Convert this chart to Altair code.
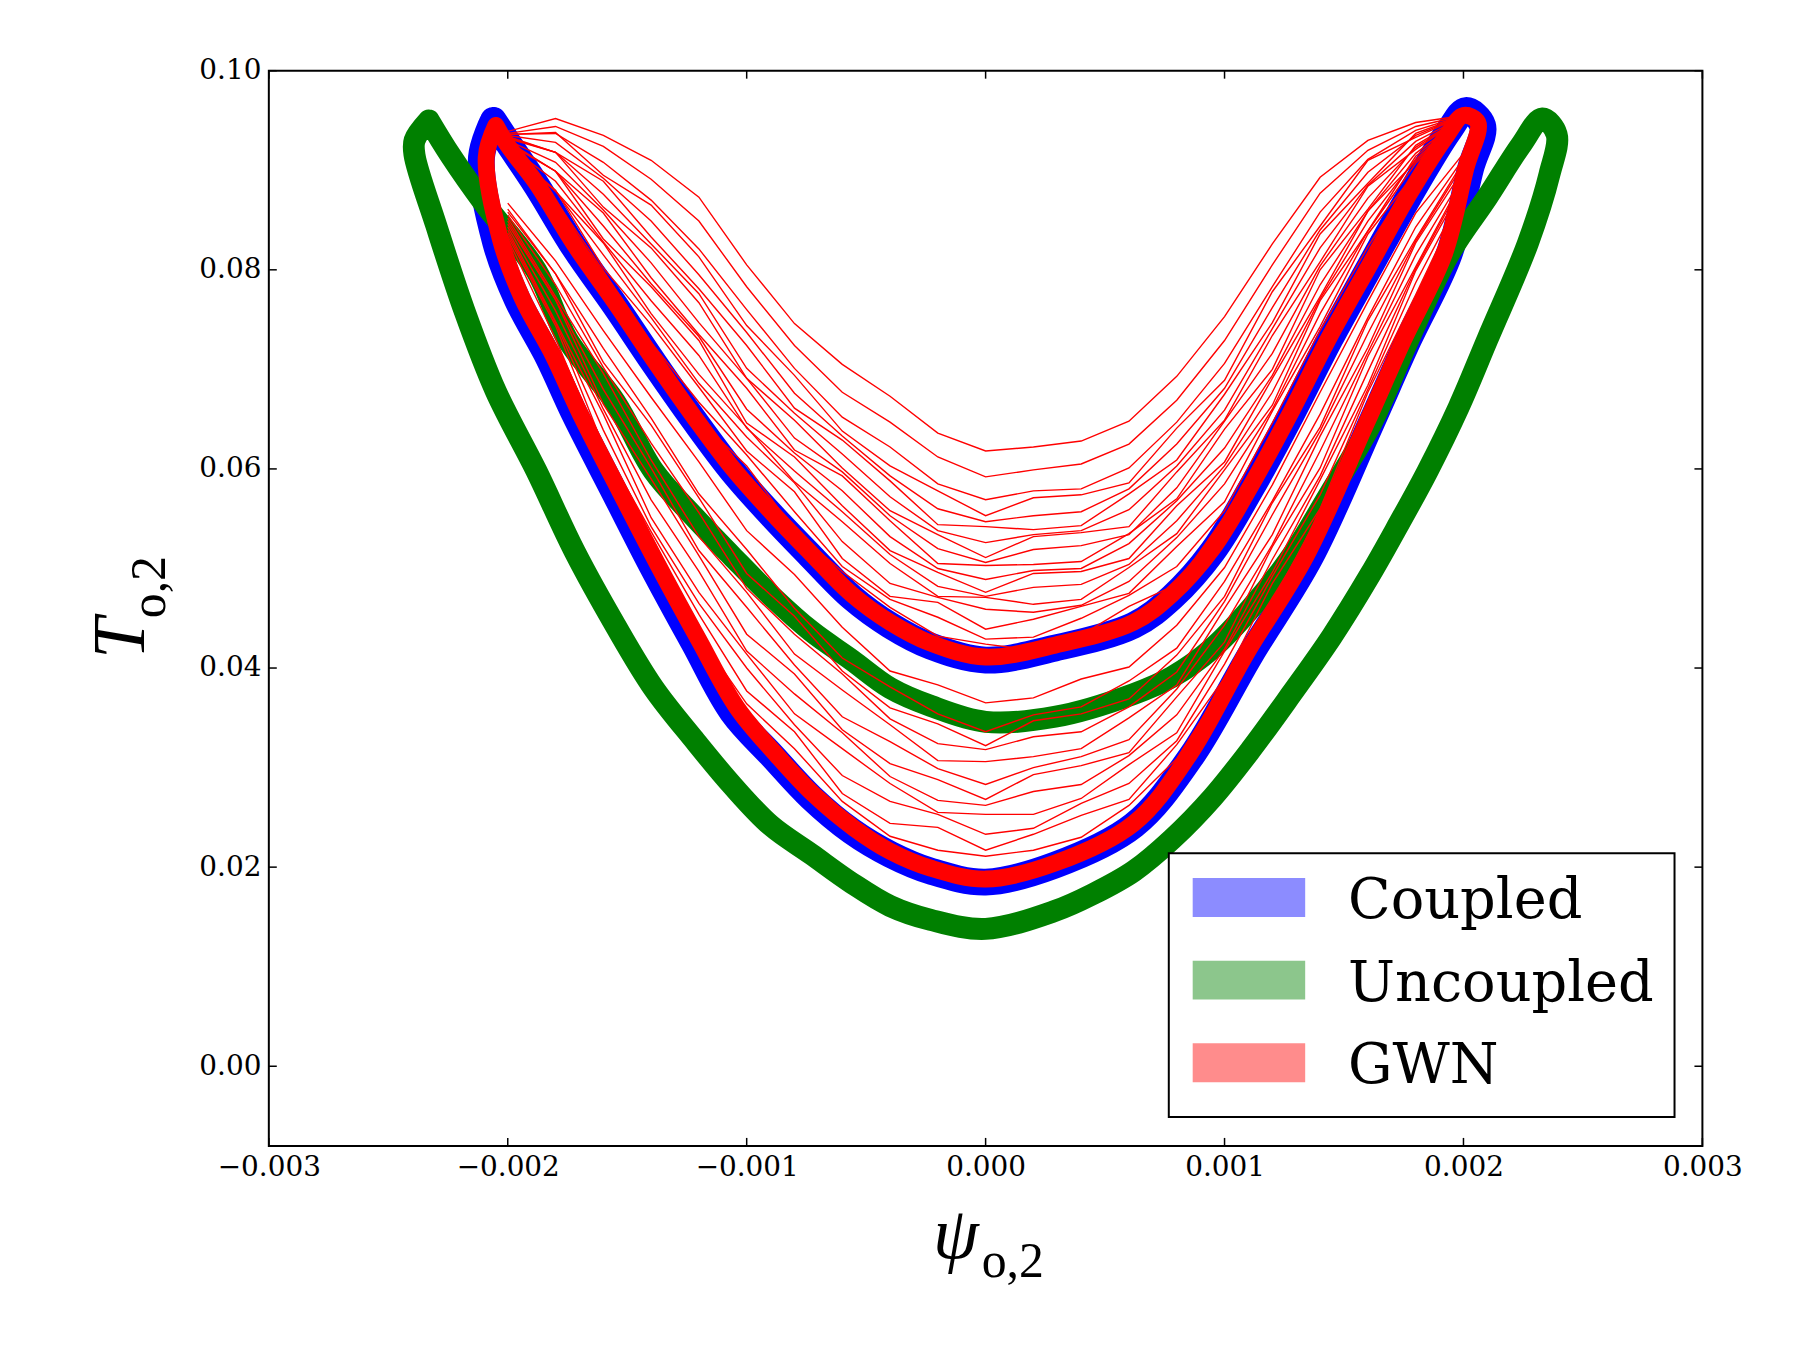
import altair as alt
import pandas as pd

# ---------------- data ----------------
x_ticks = [-0.003, -0.002, -0.001, 0.0, 0.001, 0.002, 0.003]
y_ticks = [0.00, 0.02, 0.04, 0.06, 0.08, 0.10]

legend_labels = ["Coupled", "Uncoupled", "GWN"]
legend_colors = ["#0000ff", "#008000", "#ff0000"]

# Uncoupled loop (green) centre line: outer branch left->right, inner branch back
uncoupled_x = [-0.00233, -0.00239, -0.00239, -0.00230, -0.00218, -0.00205, -0.00188, -0.00172,
               -0.00155, -0.00139, -0.00122, -0.00106, -0.00090, -0.00073, -0.00056, -0.00040,
               -0.00023, 0.00000, 0.00029, 0.00045, 0.00062, 0.00078, 0.00095, 0.00111,
               0.00128, 0.00145, 0.00161, 0.00173, 0.00185, 0.00198, 0.00210, 0.00227,
               0.00236, 0.00239, 0.00233, 0.00224, 0.00210, 0.00194, 0.00177, 0.00161,
               0.00144, 0.00128, 0.00111, 0.00095, 0.00078, 0.00062, 0.00029, 0.00000,
               -0.00023, -0.00040, -0.00056, -0.00073, -0.00089, -0.00106, -0.00122, -0.00139,
               -0.00155, -0.00175, -0.00188, -0.00210, -0.00224, -0.00233]
uncoupled_y = [0.0950, 0.0930, 0.0915, 0.0845, 0.0758, 0.0678, 0.0598, 0.0517,
               0.0443, 0.0380, 0.0328, 0.0282, 0.0242, 0.0213, 0.0184, 0.0161,
               0.0147, 0.0138, 0.0156, 0.0173, 0.0196, 0.0228, 0.0270, 0.0318,
               0.0374, 0.0432, 0.0494, 0.0545, 0.0598, 0.0662, 0.0730, 0.0827,
               0.0896, 0.0936, 0.0952, 0.0925, 0.0873, 0.0816, 0.0730, 0.0644,
               0.0575, 0.0512, 0.0460, 0.0420, 0.0391, 0.0374, 0.0351, 0.0346,
               0.0362, 0.0380, 0.0408, 0.0437, 0.0471, 0.0512, 0.0552, 0.0598,
               0.0667, 0.0730, 0.0799, 0.0867, 0.0915, 0.0950]

# Coupled loop (blue) centre line
coupled_x = [-0.00206, -0.00211, -0.00205, -0.00196, -0.00183, -0.00172, -0.00155, -0.00139,
             -0.00122, -0.00106, -0.00089, -0.00073, -0.00056, -0.00040, -0.00023, 0.00000,
             0.00029, 0.00062, 0.00086, 0.00111, 0.00136, 0.00161, 0.00177, 0.00194,
             0.00203, 0.00208, 0.00201, 0.00194, 0.00177, 0.00161, 0.00144, 0.00128,
             0.00111, 0.00095, 0.00078, 0.00062, 0.00029, 0.00000, -0.00023, -0.00040,
             -0.00056, -0.00073, -0.00089, -0.00106, -0.00122, -0.00139, -0.00155, -0.00172,
             -0.00188, -0.00200, -0.00206]
coupled_y = [0.0950, 0.0913, 0.0827, 0.0770, 0.0712, 0.0655, 0.0575, 0.0500,
             0.0425, 0.0356, 0.0311, 0.0270, 0.0236, 0.0213, 0.0196, 0.0185,
             0.0202, 0.0242, 0.0311, 0.0414, 0.0512, 0.0644, 0.0730, 0.0816,
             0.0902, 0.0945, 0.0960, 0.0940, 0.0873, 0.0804, 0.0730, 0.0655,
             0.0580, 0.0517, 0.0471, 0.0443, 0.0420, 0.0408, 0.0422, 0.0443,
             0.0471, 0.0512, 0.0552, 0.0598, 0.0649, 0.0707, 0.0764, 0.0822,
             0.0885, 0.0928, 0.0950]

# GWN dense band (red) centre line
gwn_band_x = [-0.00205, -0.00209, -0.00203, -0.00194, -0.00181, -0.00170, -0.00153, -0.00137,
              -0.00120, -0.00104, -0.00088, -0.00072, -0.00055, -0.00040, -0.00023, 0.00000,
              0.00029, 0.00062, 0.00085, 0.00109, 0.00134, 0.00159, 0.00175, 0.00192,
              0.00201, 0.00206, 0.00200, 0.00193, 0.00177, 0.00161, 0.00144, 0.00128,
              0.00111, 0.00095, 0.00078, 0.00062, 0.00029, 0.00000, -0.00023, -0.00040,
              -0.00056, -0.00073, -0.00089, -0.00106, -0.00122, -0.00139, -0.00155, -0.00172,
              -0.00188, -0.00200, -0.00205]
gwn_band_y = [0.0945, 0.0913, 0.0830, 0.0772, 0.0714, 0.0657, 0.0577, 0.0503,
              0.0428, 0.0360, 0.0314, 0.0273, 0.0239, 0.0216, 0.0199, 0.0188,
              0.0204, 0.0244, 0.0312, 0.0414, 0.0512, 0.0644, 0.0730, 0.0816,
              0.0902, 0.0948, 0.0955, 0.0935, 0.0875, 0.0806, 0.0733, 0.0658,
              0.0583, 0.0520, 0.0474, 0.0446, 0.0423, 0.0411, 0.0425, 0.0446,
              0.0474, 0.0515, 0.0555, 0.0601, 0.0652, 0.0710, 0.0767, 0.0825,
              0.0887, 0.0925, 0.0945]

# GWN individual trajectories (thin red), sampled at these psi values
gwn_grid_x = [-0.0020, -0.0018, -0.0016, -0.0014, -0.0012, -0.0010, -0.0008, -0.0006,
              -0.0004, -0.0002, 0.0000, 0.0002, 0.0004, 0.0006, 0.0008, 0.0010,
              0.0012, 0.0014, 0.0016, 0.0018, 0.0020]

gwn_upper = [
    [0.0917, 0.0858, 0.0795, 0.0714, 0.0650, 0.0603, 0.0539, 0.0497, 0.0461, 0.0432, 0.0424,
     0.0418, 0.0433, 0.0462, 0.0484, 0.0552, 0.0627, 0.0731, 0.0807, 0.0897, 0.0951],
    [0.0918, 0.0870, 0.0799, 0.0727, 0.0667, 0.0614, 0.0557, 0.0502, 0.0469, 0.0451, 0.0429,
     0.0431, 0.0450, 0.0473, 0.0502, 0.0558, 0.0646, 0.0739, 0.0823, 0.0898, 0.0952],
    [0.0920, 0.0880, 0.0802, 0.0745, 0.0682, 0.0618, 0.0577, 0.0510, 0.0472, 0.0466, 0.0439,
     0.0449, 0.0462, 0.0475, 0.0522, 0.0567, 0.0658, 0.0743, 0.0836, 0.0898, 0.0952],
    [0.0923, 0.0879, 0.0815, 0.0752, 0.0686, 0.0632, 0.0586, 0.0527, 0.0485, 0.0471, 0.0459,
     0.0456, 0.0463, 0.0487, 0.0531, 0.0585, 0.0660, 0.0756, 0.0839, 0.0907, 0.0952],
    [0.0924, 0.0879, 0.0827, 0.0756, 0.0695, 0.0642, 0.0587, 0.0547, 0.0505, 0.0472, 0.0471,
     0.0464, 0.0469, 0.0501, 0.0535, 0.0599, 0.0664, 0.0769, 0.0839, 0.0914, 0.0952],
    [0.0925, 0.0889, 0.0828, 0.0769, 0.0714, 0.0641, 0.0598, 0.0557, 0.0514, 0.0482, 0.0472,
     0.0481, 0.0484, 0.0504, 0.0548, 0.0603, 0.0677, 0.0771, 0.0849, 0.0911, 0.0953],
    [0.0927, 0.0899, 0.0831, 0.0783, 0.0729, 0.0646, 0.0612, 0.0563, 0.0518, 0.0496, 0.0476,
     0.0495, 0.0497, 0.0510, 0.0563, 0.0607, 0.0691, 0.0773, 0.0859, 0.0909, 0.0953],
    [0.0928, 0.0899, 0.0844, 0.0786, 0.0733, 0.0660, 0.0616, 0.0578, 0.0532, 0.0500, 0.0489,
     0.0498, 0.0500, 0.0525, 0.0568, 0.0621, 0.0694, 0.0785, 0.0859, 0.0917, 0.0953],
    [0.0929, 0.0899, 0.0857, 0.0792, 0.0735, 0.0681, 0.0619, 0.0593, 0.0548, 0.0505, 0.0503,
     0.0504, 0.0507, 0.0535, 0.0570, 0.0640, 0.0700, 0.0800, 0.0861, 0.0925, 0.0954],
    [0.0930, 0.0908, 0.0860, 0.0807, 0.0747, 0.0691, 0.0631, 0.0597, 0.0553, 0.0520, 0.0506,
     0.0519, 0.0523, 0.0534, 0.0581, 0.0648, 0.0716, 0.0804, 0.0872, 0.0923, 0.0954],
    [0.0932, 0.0918, 0.0863, 0.0822, 0.0767, 0.0691, 0.0649, 0.0601, 0.0558, 0.0534, 0.0511,
     0.0532, 0.0536, 0.0542, 0.0597, 0.0649, 0.0734, 0.0808, 0.0884, 0.0921, 0.0954],
    [0.0933, 0.0918, 0.0876, 0.0826, 0.0776, 0.0701, 0.0656, 0.0615, 0.0572, 0.0538, 0.0526,
     0.0534, 0.0538, 0.0559, 0.0603, 0.0659, 0.0741, 0.0822, 0.0885, 0.0929, 0.0954],
    [0.0934, 0.0918, 0.0889, 0.0833, 0.0781, 0.0724, 0.0661, 0.0629, 0.0588, 0.0544, 0.0542,
     0.0539, 0.0543, 0.0575, 0.0609, 0.0675, 0.0747, 0.0836, 0.0887, 0.0937, 0.0955],
    [0.0935, 0.0928, 0.0892, 0.0849, 0.0795, 0.0737, 0.0676, 0.0633, 0.0593, 0.0560, 0.0547,
     0.0553, 0.0557, 0.0580, 0.0625, 0.0681, 0.0762, 0.0840, 0.0898, 0.0935, 0.0955],
    [0.0936, 0.0938, 0.0895, 0.0865, 0.0813, 0.0744, 0.0694, 0.0638, 0.0603, 0.0578, 0.0553,
     0.0571, 0.0574, 0.0586, 0.0641, 0.0689, 0.0778, 0.0844, 0.0910, 0.0933, 0.0955],
    [0.0936, 0.0937, 0.0908, 0.0870, 0.0821, 0.0760, 0.0701, 0.0652, 0.0622, 0.0585, 0.0569,
     0.0578, 0.0580, 0.0601, 0.0647, 0.0706, 0.0783, 0.0858, 0.0911, 0.0940, 0.0955],
    [0.0937, 0.0944, 0.0924, 0.0891, 0.0849, 0.0783, 0.0724, 0.0677, 0.0647, 0.0612, 0.0592,
     0.0599, 0.0605, 0.0625, 0.0669, 0.0729, 0.0805, 0.0877, 0.0920, 0.0944, 0.0955],
    [0.0939, 0.0952, 0.0935, 0.0910, 0.0873, 0.0805, 0.0746, 0.0705, 0.0673, 0.0636, 0.0618,
     0.0622, 0.0628, 0.0648, 0.0693, 0.0753, 0.0826, 0.0893, 0.0930, 0.0948, 0.0955],
]

gwn_lower = [
    [0.0831, 0.0731, 0.0617, 0.0521, 0.0433, 0.0364, 0.0319, 0.0266, 0.0231, 0.0217, 0.0211,
     0.0217, 0.0230, 0.0262, 0.0309, 0.0385, 0.0467, 0.0556, 0.0664, 0.0773, 0.0873],
    [0.0834, 0.0744, 0.0623, 0.0537, 0.0454, 0.0377, 0.0336, 0.0274, 0.0244, 0.0240, 0.0217,
     0.0233, 0.0252, 0.0268, 0.0323, 0.0390, 0.0485, 0.0560, 0.0677, 0.0775, 0.0876],
    [0.0837, 0.0747, 0.0639, 0.0542, 0.0465, 0.0400, 0.0343, 0.0292, 0.0266, 0.0253, 0.0233,
     0.0239, 0.0264, 0.0284, 0.0327, 0.0404, 0.0492, 0.0574, 0.0680, 0.0787, 0.0879],
    [0.0840, 0.0748, 0.0655, 0.0551, 0.0476, 0.0414, 0.0354, 0.0319, 0.0284, 0.0255, 0.0253,
     0.0253, 0.0269, 0.0303, 0.0335, 0.0417, 0.0496, 0.0589, 0.0684, 0.0799, 0.0885],
    [0.0843, 0.0759, 0.0660, 0.0569, 0.0497, 0.0417, 0.0374, 0.0335, 0.0291, 0.0267, 0.0262,
     0.0276, 0.0283, 0.0312, 0.0353, 0.0419, 0.0509, 0.0593, 0.0698, 0.0801, 0.0890],
    [0.0846, 0.0770, 0.0665, 0.0590, 0.0513, 0.0434, 0.0394, 0.0338, 0.0304, 0.0288, 0.0268,
     0.0293, 0.0302, 0.0315, 0.0371, 0.0426, 0.0522, 0.0601, 0.0713, 0.0803, 0.0893],
    [0.0849, 0.0770, 0.0680, 0.0601, 0.0518, 0.0461, 0.0403, 0.0351, 0.0326, 0.0299, 0.0283,
     0.0300, 0.0311, 0.0328, 0.0379, 0.0443, 0.0524, 0.0618, 0.0717, 0.0815, 0.0895],
    [0.0852, 0.0773, 0.0696, 0.0609, 0.0532, 0.0476, 0.0414, 0.0378, 0.0343, 0.0307, 0.0306,
     0.0311, 0.0319, 0.0350, 0.0383, 0.0460, 0.0534, 0.0633, 0.0722, 0.0827, 0.0901],
    [0.0855, 0.0785, 0.0702, 0.0626, 0.0556, 0.0480, 0.0434, 0.0394, 0.0349, 0.0324, 0.0318,
     0.0331, 0.0336, 0.0361, 0.0396, 0.0467, 0.0554, 0.0638, 0.0736, 0.0829, 0.0906],
    [0.0858, 0.0796, 0.0707, 0.0644, 0.0571, 0.0495, 0.0452, 0.0397, 0.0360, 0.0344, 0.0322,
     0.0347, 0.0354, 0.0369, 0.0413, 0.0472, 0.0566, 0.0642, 0.0749, 0.0831, 0.0909],
    [0.0861, 0.0796, 0.0721, 0.0651, 0.0575, 0.0519, 0.0460, 0.0410, 0.0381, 0.0354, 0.0336,
     0.0353, 0.0361, 0.0387, 0.0420, 0.0487, 0.0568, 0.0655, 0.0752, 0.0843, 0.0912],
    [0.0867, 0.0809, 0.0739, 0.0672, 0.0607, 0.0538, 0.0494, 0.0441, 0.0397, 0.0383, 0.0365,
     0.0370, 0.0389, 0.0401, 0.0443, 0.0501, 0.0584, 0.0677, 0.0768, 0.0857, 0.0917],
]

# ---------------- build tables ----------------
def loop_df(xs, ys):
    return pd.DataFrame({"x": xs, "y": ys, "order": list(range(len(xs)))})

rows = []
for k, ys in enumerate(gwn_upper + gwn_lower):
    for xv, yv in zip(gwn_grid_x, ys):
        rows.append({"x": xv, "y": yv, "curve": k})
thin_df = pd.DataFrame(rows)

W, H = 1440, 1080
xscale = alt.Scale(domain=[-0.003, 0.003], nice=False, zero=False)
yscale = alt.Scale(domain=[-0.008, 0.10], nice=False, zero=False)

common_axis = dict(title=None, grid=False, ticks=False, tickSize=0, domain=False,
                   labelFont="DejaVu Serif", labelFontSize=28, labelColor="black",
                   labelPadding=8, labelFlush=False, labelOverlap=False)
xaxis = alt.Axis(values=x_ticks, format=".3f", **common_axis)
yaxis = alt.Axis(values=y_ticks, format=".2f", **common_axis)

X = alt.X("x:Q", scale=xscale, axis=xaxis)
Y = alt.Y("y:Q", scale=yscale, axis=yaxis)


def loop_layer(df, color, width):
    return alt.Chart(df).mark_line(color=color, strokeWidth=width, strokeCap="round",
                                   strokeJoin="round", interpolate="catmull-rom").encode(
        x=X, y=Y, order="order:Q")


blue = loop_layer(loop_df(coupled_x, coupled_y), legend_colors[0], 27)
green = loop_layer(loop_df(uncoupled_x, uncoupled_y), legend_colors[1], 22)
red_band = loop_layer(loop_df(gwn_band_x, gwn_band_y), legend_colors[2], 17)
red_thin = alt.Chart(thin_df).mark_line(color=legend_colors[2], strokeWidth=1.4).encode(
    x=X, y=Y, detail="curve:N")

xt = pd.DataFrame({"v": x_ticks})
yt = pd.DataFrame({"v": y_ticks})
tick_style = dict(color="black", strokeWidth=1.5)
ticks = [
    alt.Chart(xt).mark_rule(**tick_style).encode(
        x=alt.X("v:Q", scale=xscale, axis=xaxis), y=alt.value(H - 8), y2=alt.value(H)),
    alt.Chart(xt).mark_rule(**tick_style).encode(
        x=alt.X("v:Q", scale=xscale, axis=xaxis), y=alt.value(0), y2=alt.value(8)),
    alt.Chart(yt).mark_rule(**tick_style).encode(
        y=alt.Y("v:Q", scale=yscale, axis=yaxis), x=alt.value(0), x2=alt.value(8)),
    alt.Chart(yt).mark_rule(**tick_style).encode(
        y=alt.Y("v:Q", scale=yscale, axis=yaxis), x=alt.value(W - 8), x2=alt.value(W)),
]

one = pd.DataFrame({"a": [0]})

# axis titles (math-style)
titles = [
    alt.Chart(one).mark_text(font="Liberation Serif", fontStyle="italic", fontSize=74,
                             align="center", baseline="alphabetic", color="black").encode(
        x=alt.value(690), y=alt.value(1193), text=alt.value("ψ")),
    alt.Chart(one).mark_text(font="Liberation Serif", fontSize=50,
                             align="left", baseline="alphabetic", color="black").encode(
        x=alt.value(716), y=alt.value(1212), text=alt.value("o,2")),
    alt.Chart(one).mark_text(font="Liberation Serif", fontStyle="italic", fontSize=74,
                             align="center", baseline="alphabetic", angle=270,
                             color="black").encode(
        x=alt.value(-125), y=alt.value(570), text=alt.value("T")),
    alt.Chart(one).mark_text(font="Liberation Serif", fontSize=50,
                             align="left", baseline="alphabetic", angle=270,
                             color="black").encode(
        x=alt.value(-104), y=alt.value(550), text=alt.value("o,2")),
]

# legend
legend = [alt.Chart(one).mark_rect(fill="white", stroke="black", strokeWidth=2).encode(
    x=alt.value(904), x2=alt.value(1412), y=alt.value(786), y2=alt.value(1051))]
for i, (lab, col) in enumerate(zip(legend_labels, legend_colors)):
    legend.append(alt.Chart(one).mark_rect(fill=col, fillOpacity=0.45).encode(
        x=alt.value(928), x2=alt.value(1041),
        y=alt.value(811 + 83 * i), y2=alt.value(850 + 83 * i)))
    legend.append(alt.Chart(one).mark_text(font="DejaVu Serif", fontSize=56, align="left",
                                           baseline="alphabetic", color="black").encode(
        x=alt.value(1084), y=alt.value(851 + 83 * i), text=alt.value(lab)))

chart = alt.layer(blue, green, red_band, red_thin, *ticks, *titles, *legend).properties(
    width=W, height=H,
    autosize=alt.AutoSizeParams(type="none"),
    padding={"left": 262, "top": 60, "right": 90, "bottom": 194},
    background="white",
).configure_view(stroke="black", strokeWidth=2)

chart.save("out.html", embed_options={"renderer": "svg", "actions": False})
